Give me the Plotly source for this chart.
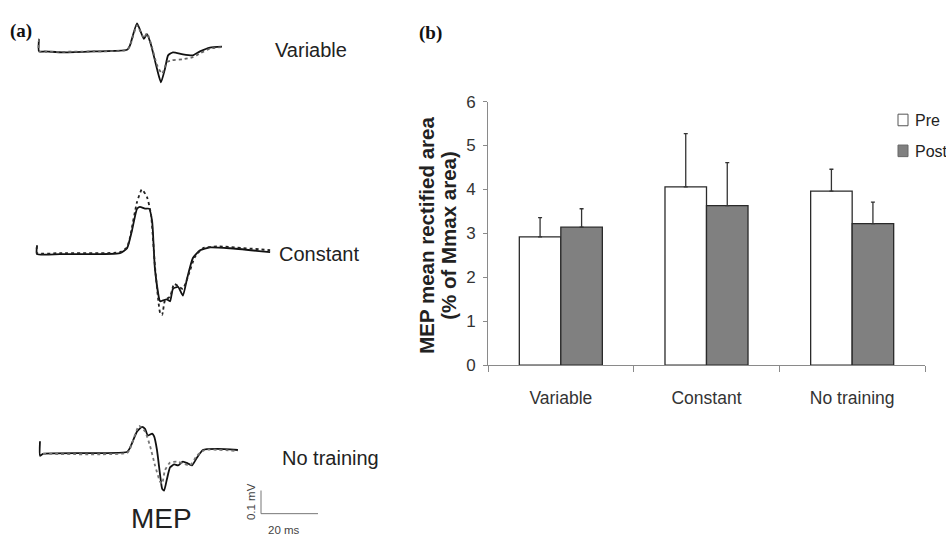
import plotly.graph_objects as go

W, H = 946, 542

# ---------------- Panel (b) data ----------------
groups = ["Variable", "Constant", "No training"]
pre_mean = [2.92, 4.06, 3.96]
pre_err = [0.44, 1.21, 0.50]
post_mean = [3.14, 3.63, 3.22]
post_err = [0.42, 0.98, 0.49]
y_ticks = [0, 1, 2, 3, 4, 5, 6]
legend_labels = ["Pre", "Post"]

# ---------------- Panel (a) data (time in ms, amplitude in mV) ----------------
var_solid_t = [0.7, 0.7, 2.8, 9.1, 20.0, 31.6, 32.6, 35.1, 37.5, 38.6, 40.0, 42.1, 43.5, 44.9, 46.0, 47.7, 51.2, 54.7, 57.2, 60.7, 64.9]
var_solid_v = [0.05, -0.004, -0.004, -0.008, -0.004, 0.003, 0.021, 0.117, 0.05, 0.071, 0.025, -0.079, -0.1375, -0.079, -0.021, -0.008, -0.017, -0.021, -0.004, 0.0125, 0.017]
var_dash_t = [0.7, 0.7, 2.8, 20.0, 31.6, 32.6, 35.1, 37.5, 38.6, 40.0, 42.1, 43.9, 45.6, 47.4, 51.2, 54.7, 57.2, 60.7, 64.9]
var_dash_v = [0.05, -0.004, -0.006, -0.004, 0.002, 0.019, 0.108, 0.054, 0.075, 0.029, -0.0625, -0.1, -0.05, -0.042, -0.0375, -0.029, -0.0125, 0.008, 0.015]

con_solid_t = [0, 0, 8.1, 29.1, 31.6, 33.3, 35.1, 36.1, 37.9, 39.3, 40.4, 41.4, 43.2, 44.2, 45.6, 46.7, 47.7, 49.5, 51.2, 52.6, 54.7, 57.2, 60.7, 67.7, 81.8]
con_solid_v = [0.033, -0.004, -0.004, 0, 0.021, 0.096, 0.192, 0.2, 0.192, 0.192, 0.1375, -0.071, -0.208, -0.204, -0.2, -0.208, -0.154, -0.146, -0.183, -0.1125, -0.021, 0.0125, 0.025, 0.021, 0.004]
con_dash_t = [0, 0, 8.1, 29.1, 31.6, 32.6, 35.1, 36.8, 38.6, 40.0, 41.4, 43.2, 43.9, 44.9, 46.7, 48.1, 49.5, 51.2, 53.0, 55.4, 58.2, 63.2, 81.8]
con_dash_v = [0.033, 0, 0, 0.004, 0.025, 0.067, 0.221, 0.275, 0.242, 0.167, -0.058, -0.258, -0.267, -0.204, -0.1875, -0.133, -0.142, -0.154, -0.1, -0.017, 0.021, 0.029, 0.0125]

not_solid_t = [1.05, 1.05, 2.1, 31.6, 32.6, 35.1, 36.8, 37.9, 38.9, 40.4, 41.1, 42.1, 43.2, 43.9, 44.6, 45.6, 46.7, 48.1, 49.5, 51.2, 53.0, 54.4, 56.1, 58.2, 63.2, 70.5]
not_solid_v = [0.05, -0.0125, -0.004, 0.004, 0.021, 0.092, 0.1125, 0.104, 0.075, 0.083, 0.071, 0.0125, -0.096, -0.154, -0.1625, -0.1125, -0.0625, -0.05, -0.054, -0.0375, -0.046, -0.054, -0.021, 0.0125, 0.017, 0.0125]
not_dash_t = [2.1, 31.6, 32.6, 35.8, 37.9, 39.6, 41.4, 43.2, 43.9, 44.9, 46.7, 49.1, 51.2, 53.7, 56.1, 58.9, 70.5]
not_dash_v = [-0.004, 0, 0.017, 0.117, 0.092, 0.033, -0.054, -0.125, -0.133, -0.075, -0.042, -0.0375, -0.046, -0.054, -0.0125, 0.0125, 0.008]

scale_ms = 20
scale_mv = 0.1
scale_origin_t = 78.6
scale_origin_v = -0.2625

# ---------------- layout helpers (pixels -> paper) ----------------
PX_PER_MS = 2.85
PX_PER_MV = 240.0
T0_PX = 37.0


def px_x(p):
    return p / W


def px_y(p):
    return 1 - p / H


def wave_yaxis(base_px, top_px, bot_px):
    return dict(domain=[px_y(bot_px), px_y(top_px)],
                range=[(base_px - bot_px) / PX_PER_MV, (base_px - top_px) / PX_PER_MV],
                visible=False, anchor="x2", fixedrange=True)


FONT = "Arial, Liberation Sans, sans-serif"
SERIF = "Times New Roman, Liberation Serif, serif"

fig = go.Figure()

# ---- bars ----
fig.add_trace(go.Bar(
    x=groups, y=pre_mean, name=legend_labels[0],
    marker=dict(color="white", line=dict(color="#2a2a2a", width=1.3)),
    error_y=dict(type="data", array=pre_err, arrayminus=[0] * len(pre_err), symmetric=False,
                 color="#333333", thickness=1.3, width=2),
    showlegend=False, xaxis="x", yaxis="y"))
fig.add_trace(go.Bar(
    x=groups, y=post_mean, name=legend_labels[1],
    marker=dict(color="#808080", line=dict(color="#2a2a2a", width=1.3)),
    error_y=dict(type="data", array=post_err, arrayminus=[0] * len(post_err), symmetric=False,
                 color="#333333", thickness=1.3, width=2),
    showlegend=False, xaxis="x", yaxis="y"))

# ---- waveforms ----
waves = [
    (var_solid_t, var_solid_v, "y2", "solid", "#111111"),
    (var_dash_t, var_dash_v, "y2", "dot", "#666666"),
    (con_solid_t, con_solid_v, "y3", "solid", "#111111"),
    (con_dash_t, con_dash_v, "y3", "dot", "#222222"),
    (not_solid_t, not_solid_v, "y4", "solid", "#111111"),
    (not_dash_t, not_dash_v, "y4", "dot", "#777777"),
]
for t, v, ya, dash, col in waves:
    fig.add_trace(go.Scatter(x=t, y=v, mode="lines", xaxis="x2", yaxis=ya,
                             line=dict(color=col, width=1.8, dash=dash, shape="spline", smoothing=0.5),
                             showlegend=False, hoverinfo="skip"))

# ---- scale bar ----
fig.add_trace(go.Scatter(
    x=[scale_origin_t, scale_origin_t, scale_origin_t + scale_ms],
    y=[scale_origin_v + scale_mv, scale_origin_v, scale_origin_v],
    mode="lines", xaxis="x2", yaxis="y4",
    line=dict(color="#777777", width=1), showlegend=False, hoverinfo="skip"))

x2_dom = [0, 0.4]
x2_range = [(0 - T0_PX) / PX_PER_MS, (x2_dom[1] * W - T0_PX) / PX_PER_MS]

annotations = []


def ann(text, x, y, size, xanchor="center", yanchor="middle", family=FONT, angle=0, color="#222222"):
    annotations.append(dict(text=text, x=px_x(x), y=px_y(y), xref="paper", yref="paper",
                            showarrow=False, xanchor=xanchor, yanchor=yanchor, textangle=angle,
                            font=dict(family=family, size=size, color=color)))


ann("<b>(a)</b>", 8, 23, 19, xanchor="left", family=SERIF, color="#111111")
ann("<b>(b)</b>", 417, 25, 19, xanchor="left", family=SERIF, color="#111111")
ann("Variable", 273, 43, 20, xanchor="left")
ann("Constant", 277, 254, 20, xanchor="left")
ann("No training", 280, 465, 20, xanchor="left")
ann("MEP", 161, 528, 28)
ann("0.1 mV", 251, 511, 11.5, angle=-90, color="#444444")
ann("20 ms", 284, 540, 11.5, color="#444444")
ann("<b>MEP mean rectified area</b>", 427, 235, 20.5, angle=-90)
ann("<b>(% of Mmax area)</b>", 449, 235, 20.5, angle=-90)
ann(legend_labels[0], 913, 116, 16, xanchor="left")
ann(legend_labels[1], 913, 148, 16, xanchor="left")

shapes = [
    dict(type="rect", xref="paper", yref="paper", x0=px_x(898), x1=px_x(908), y0=px_y(121), y1=px_y(109),
         fillcolor="white", line=dict(color="#555555", width=1)),
    dict(type="rect", xref="paper", yref="paper", x0=px_x(898), x1=px_x(908), y0=px_y(153), y1=px_y(141),
         fillcolor="#808080", line=dict(color="#666666", width=1)),
]

fig.update_layout(
    width=W, height=H,
    margin=dict(l=0, r=0, t=0, b=0),
    paper_bgcolor="white", plot_bgcolor="white",
    barmode="group", bargap=0.43, bargroupgap=0,
    showlegend=False,
    font=dict(family=FONT, color="#333333"),
    xaxis=dict(domain=[px_x(488), px_x(925)], anchor="y", type="category",
               showline=True, linecolor="#8a8a8a", linewidth=1,
               ticks="outside", ticklen=6, tickcolor="#8a8a8a", tickson="boundaries",
               tickfont=dict(size=17.5, color="#333333", family=FONT),
               ticklabelstandoff=17, showgrid=False, zeroline=False, fixedrange=True),
    yaxis=dict(domain=[px_y(369), px_y(96)], anchor="x", range=[0, 6],
               tickvals=y_ticks, ticktext=[str(v) for v in y_ticks],
               showline=True, linecolor="#8a8a8a", linewidth=1,
               ticks="outside", ticklen=4, tickcolor="#8a8a8a",
               tickfont=dict(size=17, color="#333333", family=FONT),
               ticklabelstandoff=4, showgrid=False, zeroline=False, fixedrange=True),
    xaxis2=dict(domain=x2_dom, range=x2_range, visible=False, anchor="y2", fixedrange=True),
    yaxis2=wave_yaxis(43, 0, 110),
    yaxis3=wave_yaxis(253, 150, 360),
    yaxis4=wave_yaxis(460, 400, 542),
    annotations=annotations,
    shapes=shapes,
)

fig.write_html("out.html")
